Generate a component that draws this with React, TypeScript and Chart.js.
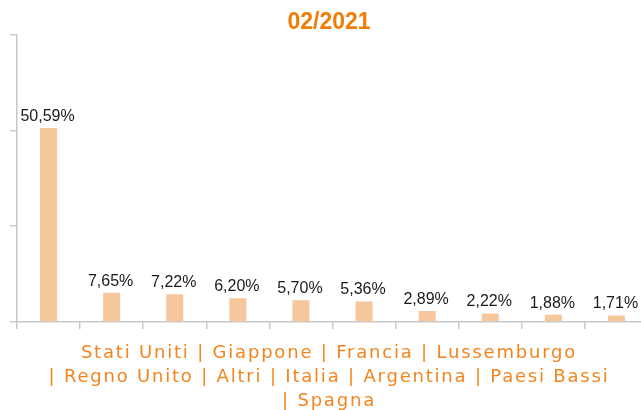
import React, { useEffect, useRef } from "react";
import { Chart, registerables } from "chart.js";

Chart.register(...registerables);

const CHART_TITLE = "02/2021";
const CATEGORIES = [
  "Stati Uniti",
  "Giappone",
  "Francia",
  "Lussemburgo",
  "Regno Unito",
  "Altri",
  "Italia",
  "Argentina",
  "Paesi Bassi",
  "Spagna",
];
const VALUES = [50.59, 7.65, 7.22, 6.2, 5.7, 5.36, 2.89, 2.22, 1.88, 1.71];
const Y_MIN = 0;
const Y_MAX = 75;
const Y_STEP = 25;
// line breaks of the category caption (index where each new line starts)
const CAPTION_BREAKS = [4, 9];

const ORANGE_TITLE = "#F07D05";
const ORANGE_CAPTION = "#F28520";
const BAR_COLOR = "#F6C69C";
const AXIS_COLOR = "#C8C8C8";

const fmt = (v: number) => v.toFixed(2).replace(".", ",") + "%";

function captionLines(): string[] {
  const lines: string[] = [];
  const bounds = [0, ...CAPTION_BREAKS, CATEGORIES.length];
  for (let i = 0; i < bounds.length - 1; i++) {
    const part = CATEGORIES.slice(bounds[i], bounds[i + 1]).join(" | ");
    lines.push(i === 0 ? part : "| " + part);
  }
  return lines;
}

const labelPlugin = {
  id: "valueLabels",
  afterDatasetsDraw(chart: any) {
    const ctx = chart.ctx as CanvasRenderingContext2D;
    const meta = chart.getDatasetMeta(0);
    ctx.save();
    ctx.font = "16px 'Liberation Sans', Arial, sans-serif";
    ctx.fillStyle = "#1a1a1a";
    ctx.textAlign = "center";
    ctx.textBaseline = "alphabetic";
    meta.data.forEach((bar: any, i: number) => {
      ctx.fillText(fmt(VALUES[i]), bar.x - 1, bar.y - 7);
    });
    ctx.font = "18px 'DejaVu Sans', sans-serif";
    (ctx as any).letterSpacing = "1.8px";
    ctx.fillStyle = ORANGE_CAPTION;
    ctx.textBaseline = "middle";
    const cx = chart.width / 2;
    captionLines().forEach((line, k) => {
      ctx.fillText(line, cx, chart.chartArea.bottom + 31 + k * 24);
    });
    ctx.restore();
  },
};

export default function App() {
  const ref = useRef<HTMLCanvasElement | null>(null);

  useEffect(() => {
    if (!ref.current) return;
    const chart = new Chart(ref.current, {
      type: "bar",
      data: {
        labels: CATEGORIES,
        datasets: [
          {
            data: VALUES,
            backgroundColor: BAR_COLOR,
            borderWidth: 0,
            categoryPercentage: 1,
            barPercentage: 0.27,
          },
        ],
      },
      options: {
        responsive: false,
        animation: false,
        devicePixelRatio: 1,
        layout: { padding: { left: 10, right: 10, top: 0, bottom: 81 } },
        plugins: {
          legend: { display: false },
          tooltip: { enabled: false },
          title: {
            display: true,
            text: CHART_TITLE,
            color: ORANGE_TITLE,
            font: { family: "'Liberation Sans', Arial, sans-serif", size: 23, weight: "bold", lineHeight: 1 },
            padding: { top: 11.5, bottom: 0 },
          },
        },
        scales: {
          x: {
            ticks: { display: false },
            grid: {
              display: true,
              drawOnChartArea: false,
              drawTicks: true,
              tickLength: 7,
              color: AXIS_COLOR,
              lineWidth: 1.5,
            },
            border: { display: true, color: AXIS_COLOR, width: 1.5 },
          },
          y: {
            min: Y_MIN,
            max: Y_MAX,
            ticks: { display: false, stepSize: Y_STEP },
            grid: {
              display: true,
              drawOnChartArea: false,
              drawTicks: true,
              tickLength: 7,
              color: AXIS_COLOR,
              lineWidth: 1.5,
            },
            border: { display: true, color: AXIS_COLOR, width: 1.5 },
          },
        },
      },
      plugins: [labelPlugin],
    });
    return () => chart.destroy();
  }, []);

  return (
    <div
      style={{
        position: "fixed",
        left: 0,
        top: 0,
        width: 641,
        height: 410,
        overflow: "hidden",
        background: "#fff",
      }}
    >
      <canvas ref={ref} width={658} height={410} style={{ display: "block" }} />
    </div>
  );
}
